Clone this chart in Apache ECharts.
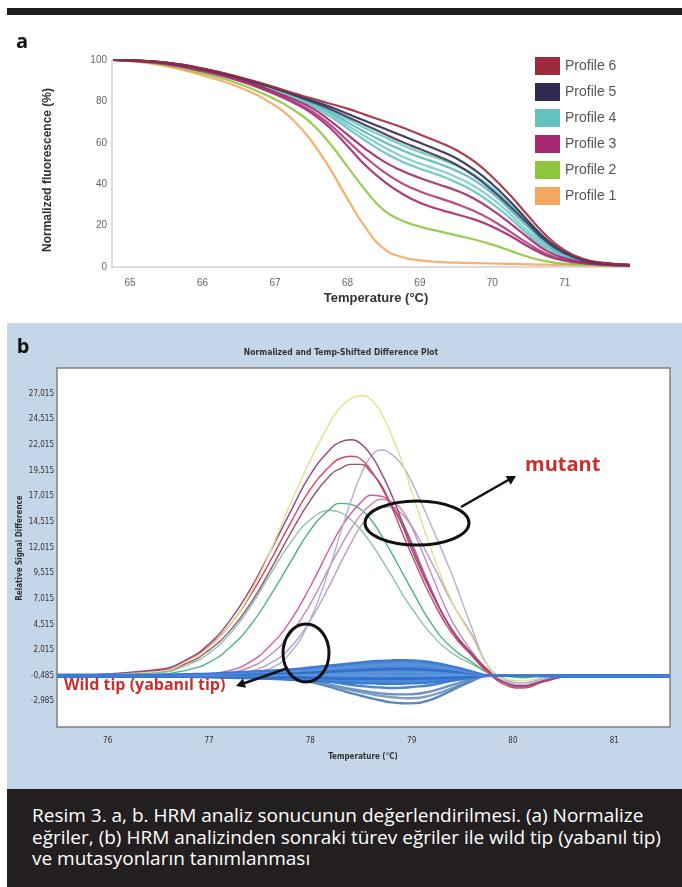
<!DOCTYPE html>
<html>
<head>
<meta charset="utf-8">
<script src="https://cdn.jsdelivr.net/npm/echarts@6/dist/echarts.min.js"></script>
<style>
  body { margin: 0; width: 682px; height: 887px; position: relative; background: #fff; overflow: hidden; }
  .bar { position: absolute; left: 7px; width: 675px; }
  #caption { color: #fff; font-family: 'Open Sans', 'Noto Sans', sans-serif; font-size: 19px; line-height: 21.5px; padding: 16px 0 0 25px; box-sizing: border-box; }
  #chart { position: absolute; left: 0; top: 0; width: 682px; height: 887px; }
</style>
</head>
<body>
<div class="bar" style="top:8px;height:7px;background:#1f1d1e"></div>
<div class="bar" style="top:323px;height:466px;background:#c6d6e9"></div>
<div class="bar" id="caption" style="top:789px;height:98px;background:#231f20">
  <div>Resim 3. a, b. HRM analiz sonucunun değerlendirilmesi. (a) Normalize</div>
  <div>eğriler, (b) HRM analizinden sonraki türev eğriler ile wild tip (yabanıl tip)</div>
  <div>ve mutasyonların tanımlanması</div>
</div>
<div id="chart"></div>
<script>
// ---- panel a: normalized melt curves ----
const aTemps = [64.77, 65, 65.5, 66, 66.5, 67, 67.25, 67.5, 67.75, 68, 68.25, 68.5, 68.75, 69, 69.25, 69.5, 69.75, 70, 70.25, 70.5, 70.75, 71, 71.25, 71.5, 71.9]
const profile1 = [100, 99.5, 97, 92.5, 87, 78, 71, 61, 48, 33, 19, 9, 4.8, 3.2, 2.5, 2.1, 1.9, 1.7, 1.5, 1.3, 1.1, 1.0, 0.8, 0.7, 0.5]
const profile2 = [100, 99.6, 97.5, 93.5, 88.5, 81, 76, 69.5, 60, 48.5, 37, 27.5, 22.5, 19.5, 17.3, 15.3, 13.3, 10.8, 7.8, 4.8, 2.7, 1.6, 1.1, 0.8, 0.5]
const profile3a = [100, 99.7, 98, 94.5, 90, 83.5, 79.5, 74.5, 67.5, 58.5, 49, 41.5, 35.5, 31, 28, 25.5, 23, 19.5, 15, 9.8, 5.5, 3, 1.8, 1.1, 0.6]
const profile3b = [100, 99.7, 98.2, 95, 90.5, 84, 80, 75.5, 69, 61, 53, 46, 40.5, 36.5, 33.5, 30.5, 27, 22.5, 17, 11.2, 6.3, 3.4, 2, 1.2, 0.6]
const profile3c = [100, 99.8, 98.3, 95.2, 90.8, 84.5, 81, 77, 71, 64, 57, 51, 46.5, 43, 40, 37, 33, 27.5, 21, 14, 7.8, 4.2, 2.3, 1.3, 0.7]
const profile4a = [100, 99.8, 98.5, 95.5, 91, 85.5, 82, 78, 73, 67, 61, 55.5, 51, 47.5, 44.5, 41, 36.5, 30.5, 23.5, 15.5, 9, 4.7, 2.6, 1.4, 0.7]
const profile4b = [100, 99.8, 98.5, 95.5, 91.2, 85.8, 82.5, 78.8, 74, 68.5, 63, 58, 53.5, 50, 47, 43.5, 39, 33, 25.5, 17, 10, 5.2, 2.8, 1.5, 0.7]
const profile4c = [100, 99.8, 98.6, 95.6, 91.4, 86, 82.8, 79.3, 75, 70, 65, 60.5, 56.5, 53, 50, 46.5, 42, 35.5, 27.5, 19, 11, 5.7, 3, 1.6, 0.8]
const profile4d = [100, 99.8, 98.6, 95.7, 91.5, 86.2, 83, 79.8, 76, 71.5, 67, 63, 59, 55.5, 52.5, 49, 44.5, 38, 30, 21, 12.2, 6.2, 3.2, 1.7, 0.8]
const profile5a = [100, 99.8, 98.7, 95.8, 91.6, 86.5, 83.5, 80.5, 77.5, 74, 70.5, 67, 63.5, 60, 56.5, 52.5, 47, 40, 31.5, 22, 13.3, 7.2, 3.6, 2, 1]
const profile5b = [100, 99.8, 98.6, 95.7, 91.5, 86.3, 83.2, 80, 76.5, 72.5, 68.5, 64.5, 60.5, 57, 53.5, 49.5, 44, 37, 29, 20.5, 12.2, 6.6, 3.3, 1.8, 0.9]
const profile6 = [100, 99.8, 98.7, 95.9, 91.8, 86.8, 84, 81.5, 79, 76.5, 73.5, 70.5, 67.5, 64, 60.5, 56.5, 51, 43.5, 34.5, 24.5, 15, 8, 4, 2.1, 1]
const legendNames = ['Profile 6', 'Profile 5', 'Profile 4', 'Profile 3', 'Profile 2', 'Profile 1']

// ---- panel b: difference plot ----
const bTemps = [75.5, 76.5, 76.8, 77.0, 77.2, 77.4, 77.6, 77.8, 78.0, 78.2, 78.3, 78.4, 78.5, 78.6, 78.7, 78.8, 78.9, 79.0, 79.2, 79.4, 79.6, 79.75, 79.9, 80.1, 80.3, 80.6, 81.55]
const mutYellow = [0, 0.4, 1.5, 2.8, 4.9, 7.9, 12.0, 16.7, 21.0, 24.8, 26.2, 27.0, 27.3, 26.9, 25.6, 23.5, 21.0, 18.0, 12.1, 7.2, 3.7, 1.0, -0.3, -0.5, -0.2, 0, 0]
const mutPurple = [0, 0.6, 1.7, 3.1, 5.3, 8.3, 12.0, 15.9, 19.6, 22.1, 22.8, 23.0, 22.6, 21.5, 19.8, 17.7, 15.2, 12.7, 8.1, 4.4, 2.1, 0.6, -0.6, -1.0, -0.5, 0, 0]
const mutRed = [0, 0.5, 1.6, 2.9, 4.9, 7.7, 11.1, 14.8, 18.2, 20.5, 21.2, 21.4, 21.1, 20.0, 18.4, 16.5, 14.1, 11.8, 7.5, 4.1, 1.9, 0.4, -0.8, -1.2, -0.6, 0, 0]
const mutPlum = [0, 0.4, 1.3, 2.5, 4.3, 6.9, 10.2, 13.8, 17.1, 19.6, 20.2, 20.6, 20.6, 19.8, 18.6, 16.6, 14.8, 12.3, 8.0, 4.5, 2.1, 0.5, -0.6, -1.0, -0.5, 0, 0]
const mutLilac = [0, 0, 0, 0, 0.1, 0.3, 0.7, 2.2, 5.5, 10.8, 14.0, 17.0, 19.6, 21.4, 22.0, 21.6, 20.6, 18.9, 14.5, 9.8, 4.5, 1.0, -0.3, -0.9, -0.4, 0, 0]
const mutPink = [0, 0, 0.1, 0.2, 0.5, 1.3, 2.9, 5.3, 8.7, 12.6, 14.4, 15.8, 16.9, 17.6, 17.5, 16.7, 15.1, 13.0, 8.3, 4.4, 1.9, 0.3, -0.6, -1.1, -0.6, 0, 0]
const mutPink2 = [0, 0, 0, 0.1, 0.3, 0.8, 2.0, 4.0, 7.0, 10.8, 12.6, 14.3, 15.7, 16.7, 17.2, 17.0, 16.2, 14.5, 9.8, 5.3, 2.3, 0.5, -0.5, -1.0, -0.5, 0, 0]
const mutGreen = [0, 0.15, 0.6, 1.3, 2.7, 4.8, 7.7, 11.0, 14.2, 16.3, 16.8, 16.7, 16.2, 15.2, 13.7, 12.0, 10.2, 8.4, 5.0, 2.7, 1.3, 0.3, 0, -0.2, 0, 0, 0]
const mutSage = [0, 0.3, 1.1, 2.2, 4.0, 6.6, 9.8, 12.9, 15.2, 16.1, 15.9, 15.2, 14.2, 12.9, 11.4, 9.8, 8.1, 6.6, 4.0, 2.2, 1.1, 0.4, 0, 0, 0, 0, 0]
const mutMauve = [0, 0, 0, 0, 0.1, 0.4, 1.2, 2.7, 5.4, 9.0, 11.0, 12.9, 14.6, 15.8, 16.45, 16.45, 15.8, 14.6, 11.0, 7.1, 3.9, 1.0, -0.2, -0.7, -0.3, 0, 0]
const wild1 = [0.1, 0.1, 0.15, 0.2, 0.3, 0.4, 0.5, 0.6, 0.8, 1.0, 1.1, 1.2, 1.3, 1.4, 1.45, 1.5, 1.52, 1.5, 1.3, 0.9, 0.4, 0.05, 0, 0, 0, 0.05, 0.05]
const wild2 = [0.05, 0.05, 0.1, 0.1, 0.2, 0.3, 0.35, 0.45, 0.55, 0.7, 0.78, 0.85, 0.93, 1.0, 1.05, 1.1, 1.12, 1.1, 0.95, 0.65, 0.3, 0, 0, 0, 0, 0, 0]
const wild3 = [0, 0, 0.05, 0.05, 0.1, 0.15, 0.2, 0.25, 0.3, 0.4, 0.45, 0.5, 0.55, 0.6, 0.63, 0.65, 0.66, 0.65, 0.55, 0.4, 0.2, 0, 0, 0, 0, 0, 0]
const wild4 = [0, 0, 0, 0, 0, 0.05, 0.05, 0.1, 0.1, 0.15, 0.18, 0.2, 0.22, 0.25, 0.28, 0.3, 0.3, 0.3, 0.25, 0.2, 0.1, 0, 0, 0, 0, 0, 0]
const wild5 = [-0.05, -0.05, -0.05, -0.05, -0.1, -0.1, -0.15, -0.15, -0.2, -0.25, -0.28, -0.3, -0.3, -0.3, -0.3, -0.3, -0.3, -0.3, -0.25, -0.2, -0.1, 0, 0, 0, 0, -0.05, -0.05]
const wild6 = [-0.1, -0.1, -0.1, -0.15, -0.2, -0.25, -0.3, -0.4, -0.5, -0.6, -0.65, -0.7, -0.73, -0.75, -0.78, -0.8, -0.78, -0.75, -0.65, -0.45, -0.2, 0, 0, 0, -0.05, -0.1, -0.1]
const wild7 = [0, 0, 0, 0, 0, -0.05, -0.1, -0.15, -0.3, -0.6, -0.75, -0.9, -1.0, -1.1, -1.15, -1.2, -1.17, -1.1, -0.9, -0.5, -0.1, 0, 0, 0, 0, 0, 0]
const wild8 = [0, 0, 0, 0, 0, -0.05, -0.1, -0.2, -0.5, -0.9, -1.1, -1.3, -1.45, -1.6, -1.72, -1.8, -1.82, -1.8, -1.5, -0.9, -0.3, 0, 0, 0, 0, 0, 0]
const wild9 = [0, 0, 0, 0, 0, -0.05, -0.1, -0.2, -0.6, -1.1, -1.4, -1.7, -1.95, -2.2, -2.42, -2.6, -2.68, -2.7, -2.3, -1.4, -0.5, 0, 0, 0, 0, 0, 0]
const wild10 = [0, 0, 0, 0, 0, -0.05, -0.1, -0.2, -0.5, -0.9, -1.15, -1.4, -1.6, -1.8, -1.97, -2.1, -2.17, -2.2, -1.9, -1.2, -0.4, 0, 0, 0, 0, 0, 0]
const yTickLabels = ['-2,985', '-0,485', '2,015', '4,515', '7,015', '9,515', '12,015', '14,515', '17,015', '19,515', '22,015', '24,515', '27,015']

const pairs = (xs, ys) => xs.map((x, i) => [x, ys[i]])
const narrow = "'Liberation Sans Narrow', 'DejaVu Sans Condensed', 'Liberation Sans', sans-serif"
const isWhole = v => Math.abs(v - Math.round(v)) < 1e-6

// panel a series: [name, color, values]
const aSpecs = [
  ['Profile 1', '#f3a861', profile1],
  ['Profile 2', '#8dc63f', profile2],
  ['Profile 4', '#63c3c1', profile4a],
  ['Profile 4', '#79cbc8', profile4b],
  ['Profile 4', '#58b8b8', profile4c],
  ['Profile 4', '#6cc6c3', profile4d],
  ['Profile 3', '#a3286f', profile3a],
  ['Profile 3', '#b03a80', profile3b],
  ['Profile 3', '#9c2a6d', profile3c],
  ['Profile 5', '#2f2b50', profile5a],
  ['Profile 5', '#3d3a60', profile5b],
  ['Profile 6', '#9e2b3c', profile6]
]
const legendColors = { 'Profile 6': '#9e2b3c', 'Profile 5': '#2f2b50', 'Profile 4': '#63c3c1', 'Profile 3': '#a3286f', 'Profile 2': '#8dc63f', 'Profile 1': '#f3a861' }

const bSpecs = [
  ['#8ec3a9', mutSage], ['#4db37e', mutGreen], ['#b99cc6', mutMauve], ['#c889b5', mutPink2],
  ['#d25aa5', mutPink], ['#b2b0cf', mutLilac], ['#95536e', mutPlum], ['#d0455f', mutRed],
  ['#8e4a86', mutPurple], ['#e3e08e', mutYellow]
]
const wildSpecs = [
  ['#7f9fc0', wild10], ['#5b86bb', wild9], ['#6b93c4', wild8], ['#4d86cf', wild7],
  ['#3a7bd5', wild6], ['#2f6fc9', wild5], ['#5a92dc', wild4], ['#2f6fc9', wild3],
  ['#5a92dc', wild2], ['#3a7bd5', wild1]
]

const series = []
aSpecs.forEach(([name, color, vals]) => {
  series.push({
    name, type: 'line', xAxisIndex: 0, yAxisIndex: 0, data: pairs(aTemps, vals),
    smooth: 0.5, showSymbol: false, silent: true,
    itemStyle: { color: legendColors[name] },
    lineStyle: { color, width: 2.2, opacity: 0.9 }
  })
})
bSpecs.forEach(([color, vals]) => {
  series.push({
    type: 'line', xAxisIndex: 1, yAxisIndex: 1, data: pairs(bTemps, vals),
    smooth: 0.5, showSymbol: false, silent: true,
    lineStyle: { color, width: 1.4 }
  })
})
// filled core of the wild-type band (upper and lower envelope down/up to zero)
;[wild1, wild6].forEach(vals => {
  series.push({
    type: 'line', xAxisIndex: 1, yAxisIndex: 1, data: pairs(bTemps, vals),
    smooth: 0.5, showSymbol: false, silent: true,
    lineStyle: { width: 0 }, areaStyle: { color: '#3a7bd5', opacity: 0.9 }
  })
})
wildSpecs.forEach(([color, vals]) => {
  series.push({
    type: 'line', xAxisIndex: 1, yAxisIndex: 1, data: pairs(bTemps, vals),
    smooth: 0.5, showSymbol: false, silent: true,
    lineStyle: { color, width: 2.4 }
  })
})

const chart = echarts.init(document.getElementById('chart'), null, { renderer: 'canvas' })
chart.setOption({
  backgroundColor: 'transparent',
  animation: false,
  legend: {
    data: legendNames, orient: 'vertical', left: 535, top: 57, padding: 0,
    itemWidth: 25, itemHeight: 18, itemGap: 8, icon: 'rect', selectedMode: false,
    textStyle: { fontSize: 14, color: '#555', fontFamily: 'Liberation Sans, Arial, sans-serif' }
  },
  grid: [
    { left: 112, top: 60, width: 518, height: 207 },
    { left: 57, top: 368, width: 613, height: 359, show: true, backgroundColor: '#fff', borderColor: '#808080', borderWidth: 1.5 }
  ],
  xAxis: [
    {
      gridIndex: 0, type: 'value', min: 64.75, max: 71.9, interval: 0.25,
      axisLine: { lineStyle: { color: '#cfcfcf', width: 1.5 } }, axisTick: { show: false }, splitLine: { show: false },
      axisLabel: { color: '#666', fontSize: 10, margin: 11, fontFamily: 'Liberation Sans, sans-serif',
        formatter: v => (isWhole(v) ? String(Math.round(v)) : '') }
    },
    {
      gridIndex: 1, type: 'value', min: 75.5, max: 81.55, interval: 0.5,
      axisLine: { show: false }, axisTick: { show: false }, splitLine: { show: false },
      axisLabel: { color: '#333', fontSize: 8, margin: 10, fontFamily: narrow,
        formatter: v => (isWhole(v) ? String(Math.round(v)) : '') }
    }
  ],
  yAxis: [
    {
      gridIndex: 0, type: 'value', min: 0, max: 100, interval: 20,
      axisLine: { show: true, lineStyle: { color: '#cfcfcf', width: 1.5 } }, axisTick: { show: false }, splitLine: { show: false },
      axisLabel: { color: '#666', fontSize: 10, margin: 5, fontFamily: 'Liberation Sans, sans-serif' }
    },
    {
      gridIndex: 1, type: 'value', min: -5, max: 30, interval: 2.5,
      axisLine: { show: false }, axisTick: { show: false }, splitLine: { show: false },
      axisLabel: { color: '#333', fontSize: 8, margin: 3, fontFamily: narrow,
        formatter: v => { const i = Math.round((v + 2.5) / 2.5); return i >= 0 && i < yTickLabels.length ? yTickLabels[i] : '' } }
    }
  ],
  series,
  graphic: [
    { type: 'text', x: 22, y: 42, z: 100, style: { text: 'a', font: 'bold 20px "Open Sans", sans-serif', fill: '#111', align: 'center', verticalAlign: 'middle' } },
    { type: 'text', x: 23, y: 347, z: 100, style: { text: 'b', font: 'bold 20px "Open Sans", sans-serif', fill: '#111', align: 'center', verticalAlign: 'middle' } },
    { type: 'text', x: 376, y: 298, z: 100, style: { text: 'Temperature (°C)', font: 'bold 13px "Liberation Sans", sans-serif', fill: '#333', align: 'center', verticalAlign: 'middle' } },
    { type: 'text', x: 48, y: 170, rotation: Math.PI / 2, z: 100, style: { text: 'Normalized fluorescence (%)', font: 'bold 12px "Liberation Sans", sans-serif', fill: '#333', align: 'center', verticalAlign: 'middle' } },
    { type: 'text', x: 341, y: 353, z: 100, style: { text: 'Normalized and Temp-Shifted Difference Plot', font: 'bold 8.5px ' + narrow, fill: '#333', align: 'center', verticalAlign: 'middle' } },
    { type: 'text', x: 20, y: 548, rotation: Math.PI / 2, z: 100, style: { text: 'Relative Signal Difference', font: 'bold 8px ' + narrow, fill: '#333', align: 'center', verticalAlign: 'middle' } },
    { type: 'text', x: 363, y: 757, z: 100, style: { text: 'Temperature (°C)', font: 'bold 8px ' + narrow, fill: '#333', align: 'center', verticalAlign: 'middle' } },
    // annotations
    { type: 'ellipse', z: 100, shape: { cx: 417, cy: 523, rx: 52, ry: 22 }, style: { fill: 'none', stroke: '#111', lineWidth: 3 } },
    { type: 'line', z: 100, shape: { x1: 461, y1: 507, x2: 510, y2: 479 }, style: { stroke: '#111', lineWidth: 2.5 } },
    { type: 'polygon', z: 100, shape: { points: [[516, 476], [510.7, 484.8], [505.7, 476]] }, style: { fill: '#111' } },
    { type: 'text', x: 525, y: 465, z: 100, style: { text: 'mutant', font: 'bold 20px "Open Sans", sans-serif', fill: '#c8302c', align: 'left', verticalAlign: 'middle' } },
    { type: 'ellipse', z: 100, shape: { cx: 306, cy: 653, rx: 23, ry: 29 }, style: { fill: 'none', stroke: '#111', lineWidth: 3 } },
    { type: 'line', z: 100, shape: { x1: 288, y1: 668, x2: 242, y2: 684 }, style: { stroke: '#111', lineWidth: 2.5 } },
    { type: 'polygon', z: 100, shape: { points: [[236, 686], [246.1, 687.8], [242.9, 678.4]] }, style: { fill: '#111' } },
    { type: 'text', x: 64, y: 685, z: 100, style: { text: 'Wild tip (yabanıl tip)', font: 'bold 16px "Open Sans", sans-serif', fill: '#c8302c', align: 'left', verticalAlign: 'middle' } }
  ]
})
</script>
</body>
</html>
